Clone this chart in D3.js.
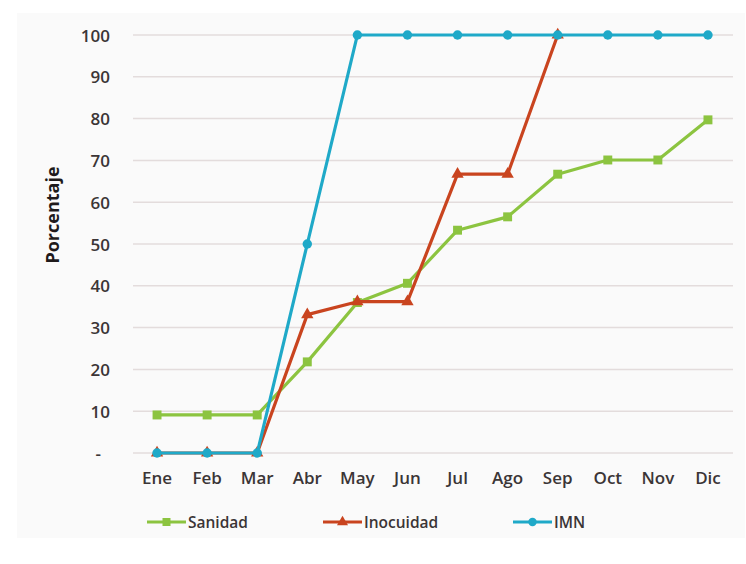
<!DOCTYPE html>
<html>
<head>
<meta charset="utf-8">
<script src="https://cdn.jsdelivr.net/npm/d3@7"></script>
<style>
  html, body { margin: 0; padding: 0; background: #ffffff; }
  svg { display: block; font-family: "Open Sans", "DejaVu Sans", sans-serif; }
</style>
</head>
<body>
<svg id="chart" width="746" height="564"></svg>
<script>
// Monthly cumulative progress (%) per programme
const months = ["Ene", "Feb", "Mar", "Abr", "May", "Jun", "Jul", "Ago", "Sep", "Oct", "Nov", "Dic"];
const sanidad = [9.1, 9.1, 9.1, 21.8, 36.0, 40.6, 53.3, 56.5, 66.7, 70.1, 70.1, 79.7];
const inocuidad = [0, 0, 0, 33.1, 36.2, 36.2, 66.7, 66.7, 100];
const imn = [0, 0, 0, 50, 100, 100, 100, 100, 100, 100, 100, 100];
const yTicks = [0, 10, 20, 30, 40, 50, 60, 70, 80, 90, 100];

const series = [
  { name: "Sanidad", values: sanidad, color: "#8cc440", symbol: d3.symbolSquare, size: 80 },
  { name: "Inocuidad", values: inocuidad, color: "#c9441f", symbol: d3.symbolTriangle, size: 66 },
  { name: "IMN", values: imn, color: "#1fa9c8", symbol: d3.symbolCircle, size: 70 }
];

const svg = d3.select("#chart");
const textColor = "#3b3536";

// light chart-area panel
svg.append("rect")
  .attr("x", 17).attr("y", 13).attr("width", 728).attr("height", 525)
  .attr("fill", "#fafafa");

const x = d3.scaleBand().domain(months).range([132, 733]);
const y = d3.scaleLinear().domain([0, 100]).range([453, 35]);

// horizontal gridlines
svg.append("g").selectAll("line")
  .data(yTicks).join("line")
  .attr("x1", 133).attr("x2", 733)
  .attr("y1", d => y(d)).attr("y2", d => y(d))
  .attr("stroke", "#e3dcdc").attr("stroke-width", 1.5);

// y axis labels
const yAxis = svg.append("g")
  .attr("transform", "translate(110,0)")
  .call(d3.axisLeft(y).tickValues(yTicks).tickSize(0).tickPadding(0)
    .tickFormat(d => d === 0 ? "-" : d));
yAxis.select(".domain").remove();
yAxis.selectAll("text")
  .attr("font-size", 17).attr("font-weight", 600).attr("fill", textColor)
  .attr("font-family", "'Open Sans', sans-serif")
  .attr("dy", "0.36em")
  .attr("dx", d => d === 0 ? -9 : 0);

// x axis labels
const xAxis = svg.append("g")
  .attr("transform", "translate(0,470)")
  .call(d3.axisBottom(x).tickSize(0).tickPadding(0));
xAxis.select(".domain").remove();
xAxis.selectAll("text")
  .attr("font-size", 17).attr("font-weight", 600).attr("fill", textColor)
  .attr("font-family", "'Open Sans', sans-serif")
  .attr("dy", "0.85em");

// y axis title
svg.append("text")
  .attr("transform", "translate(59,215) rotate(-90)")
  .attr("text-anchor", "middle")
  .attr("font-size", 18).attr("font-weight", 700).attr("fill", "#1f1a1b")
  .text("Porcentaje");

const cx = d => x(d) + x.bandwidth() / 2;
const line = d3.line().x((d, i) => cx(months[i])).y(d => y(d));

// series lines and markers
series.forEach(s => {
  const g = svg.append("g");
  g.append("path")
    .datum(s.values)
    .attr("fill", "none")
    .attr("stroke", s.color)
    .attr("stroke-width", 3.2)
    .attr("stroke-linejoin", "round")
    .attr("d", line);
  g.selectAll("path.m")
    .data(s.values).join("path")
    .attr("class", "m")
    .attr("transform", (d, i) => `translate(${cx(months[i])},${y(d)})`)
    .attr("d", d3.symbol().type(s.symbol).size(s.size))
    .attr("fill", s.color);
});

// legend
const legendX = [147, 323, 513];
const legend = svg.append("g");
series.forEach((s, i) => {
  const g = legend.append("g").attr("transform", `translate(${legendX[i]},522)`);
  g.append("line").attr("x1", 0).attr("x2", 39).attr("y1", 0).attr("y2", 0)
    .attr("stroke", s.color).attr("stroke-width", 3.2);
  g.append("path").attr("transform", "translate(19.5,0)")
    .attr("d", d3.symbol().type(s.symbol).size(s.size * 0.8)).attr("fill", s.color);
  g.append("text").attr("x", 41).attr("dy", "0.36em")
    .attr("font-size", 15.5).attr("font-weight", 600).attr("fill", textColor)
    .text(s.name);
});
</script>
</body>
</html>
